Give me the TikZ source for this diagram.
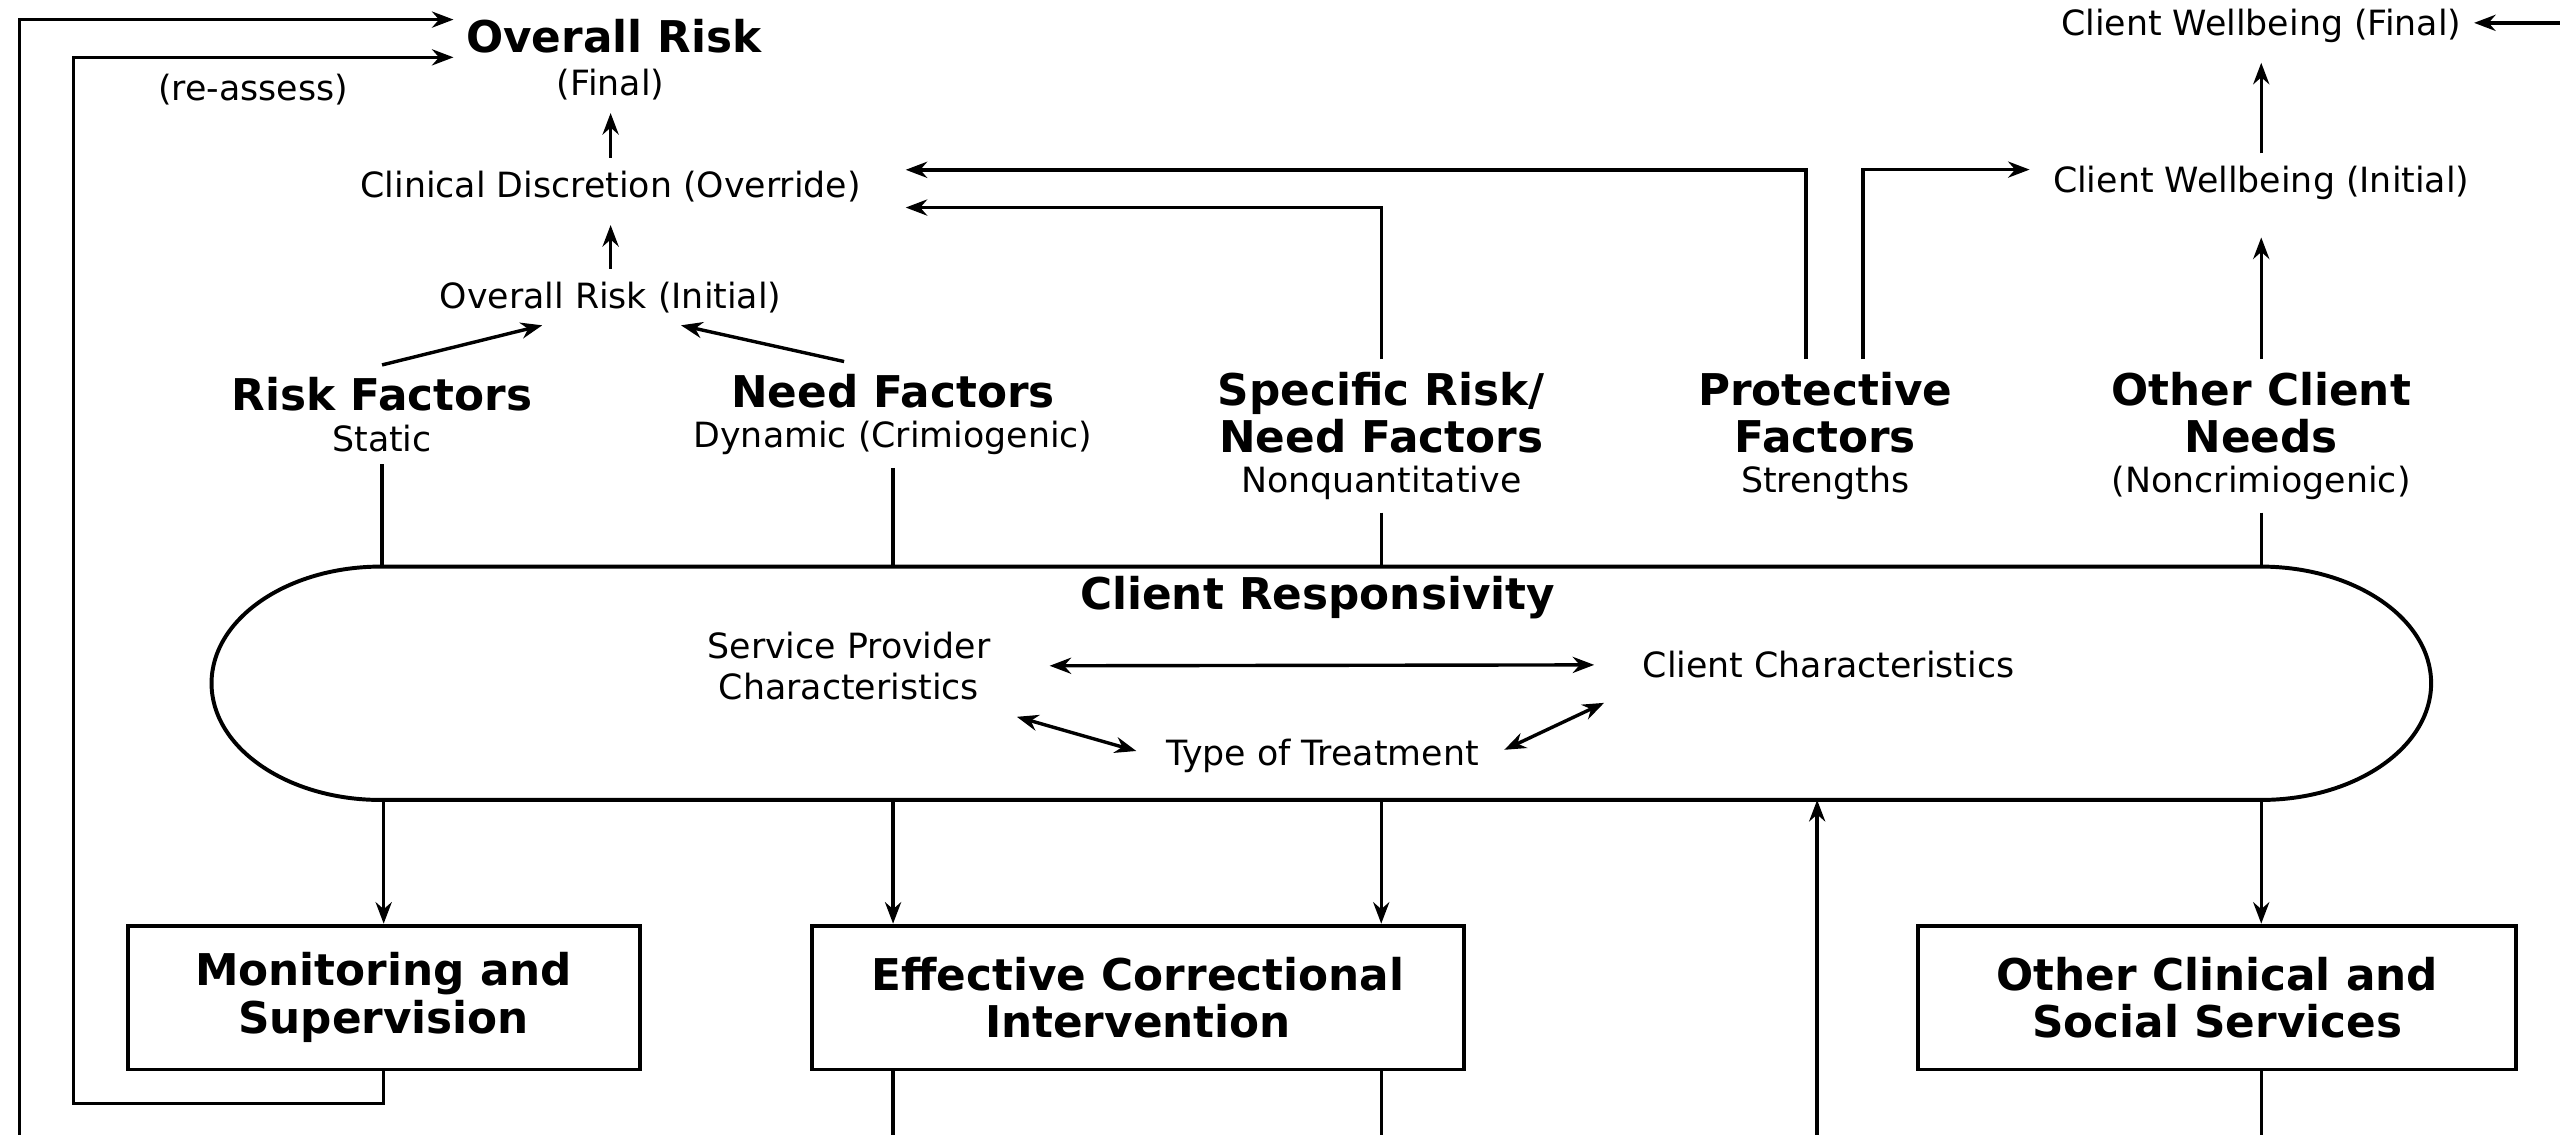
\documentclass[tikz,border=0pt]{standalone}
\usepackage{fontspec}
\setmainfont{DejaVu Sans}
\usetikzlibrary{arrows.meta}
\newcommand{\hdfont}{\fontsize{12.2}{13.2}\selectfont\bfseries}
\newcommand{\smfont}{\fontsize{9.7}{11.5}\selectfont\mdseries}
\tikzset{
  lbl/.style={font=\smfont, align=center},
  head/.style={font=\hdfont, align=center},
  svc/.style={draw, line width=1.1pt, font=\hdfont, align=center, minimum height=1.41cm},
  ln/.style={line width=0.95pt},
  arr/.style={-{Stealth[length=6pt, width=4.5pt]}, line width=0.95pt},
  dbl/.style={{Stealth[length=6pt, width=4.5pt]}-{Stealth[length=6pt, width=4.5pt]}, line width=0.95pt},
}
\begin{document}
\begin{tikzpicture}[x=0.016cm, y=-0.016cm]
  \useasboundingbox (0,0) rectangle (1568,695);
  % loose ends at the edges
  \coordinate (bot) at (0,695);
  \coordinate (lb) at (12,695);
  \coordinate (lp) at (45,676);
  \coordinate (up) at (1113,695);
  \coordinate (rt) at (1568,14);

  % overall risk
  \node(orf) at (376,22) [head] {Overall Risk};
  \node(fin) at (374,52) [lbl] {(Final)};
  \node(cd) at (374,114) [lbl] {Clinical Discretion (Override)};
  \node(ori) at (374,182) [lbl] {Overall Risk (Initial)};
  \node(ra) at (155,55) [lbl] {(re-assess)};
  % client wellbeing
  \node(cwf) at (1385,16) [lbl] {Client Wellbeing (Final)};
  \node(cwi) at (1385,112) [lbl] {Client Wellbeing (Initial)};

  % factors
  \node(rf) at (234,254) [head] {Risk Factors\\[-1.9pt]\smfont Static};
  \node(nf) at (547,254) [head] {Need Factors\\[-1.9pt]\smfont Dynamic (Crimiogenic)};
  \node(srn) at (846,267) [head] {Specific Risk/\\Need Factors\\[-1.9pt]\smfont Nonquantitative};
  \node(pf) at (1118,267) [head] {Protective\\Factors\\[-1.9pt]\smfont Strengths};
  \node(ocn) at (1385,267) [head] {Other Client\\Needs\\[-1.9pt]\smfont (Noncrimiogenic)};

  % responsivity capsule
  \node(cr) at (809,418.5) [minimum width=18.43cm, minimum height=2.288cm, inner sep=0, outer sep=0] {};
  \draw[line width=1.1pt] (cr.north west) -- (cr.north east)
    arc[start angle=90, end angle=-90, x radius=1.67cm, y radius=1.144cm]
    -- (cr.south west)
    arc[start angle=270, end angle=90, x radius=1.66cm, y radius=1.144cm] -- cycle;
  \node(crt) at (807,366) [head] {Client Responsivity};
  \node(spc) at (520,408) [lbl] {Service Provider\\Characteristics};
  \node(cc) at (1120,407) [lbl] {Client Characteristics};
  \node(tt) at (810,463) [lbl] {Type of Treatment};

  % services
  \node(ms) at (235,611) [svc, minimum width=5.02cm] {Monitoring and\\Supervision};
  \node(eci) at (697,611) [svc, minimum width=6.4cm] {Effective Correctional\\Intervention};
  \node(ocs) at (1358,611) [svc, minimum width=5.86cm] {Other Clinical and\\Social Services};

  % upper arrows
  \draw[arr] (lb) |- ([yshift=0.16cm]orf.west);
  \draw[arr] (ms.south) |- (lp) |- ([yshift=-0.21cm]orf.west);
  \draw[arr] (cd.north) -- (cd.north |- fin.south);
  \draw[arr, shorten >=3pt] (ori.north) -- (ori.north |- cd.south);
  \draw[arr] (rf.north) -- ([xshift=-0.67cm]ori.south);
  \draw[arr] ([xshift=-0.48cm]nf.north) -- ([xshift=0.69cm]ori.south);
  \draw[arr, shorten >=9pt] (srn.north) |- ([yshift=-0.21cm]cd.east);
  \draw[arr, shorten >=9pt] ([xshift=-0.19cm]pf.north) |- ([yshift=0.16cm]cd.east);
  \draw[arr, shorten >=3pt] ([xshift=0.37cm]pf.north) |- ([yshift=0.13cm]cwi.west);
  \draw[arr, shorten >=7pt] (ocn.north) -- (ocn.north |- cwi.south);
  \draw[arr, shorten >=2pt] (cwi.north) -- (cwi.north |- cwf.south);
  \draw[arr] (rt) -- (rt -| cwf.east);

  % into the capsule
  \foreach \f in {rf, nf, srn, ocn}
    \draw[ln] (\f.south) -- (\f.south |- cr.north);
  \draw[dbl, shorten <=13pt, shorten >=10pt] (spc) -- (cc);
  \draw[dbl, shorten <=4pt, shorten >=5pt] (spc.south east) -- (tt.west);
  \draw[dbl, shorten <=4pt, shorten >=8pt] (tt.east) -- (cc.south west);

  % out of the capsule
  \draw[arr] (ms.north |- cr.south) -- (ms.north);
  \draw[arr] (nf.south |- cr.south) -- (nf.south |- eci.north);
  \draw[arr] (srn.south |- cr.south) -- (srn.south |- eci.north);
  \draw[arr] (ocn.south |- cr.south) -- (ocn.south |- ocs.north);
  \draw[arr] (up) -- (up |- cr.south);
  \draw[ln] (nf.south |- eci.south) -- (nf.south |- bot);
  \draw[ln] (srn.south |- eci.south) -- (srn.south |- bot);
  \draw[ln] (ocn.south |- ocs.south) -- (ocn.south |- bot);
\end{tikzpicture}
\end{document}
